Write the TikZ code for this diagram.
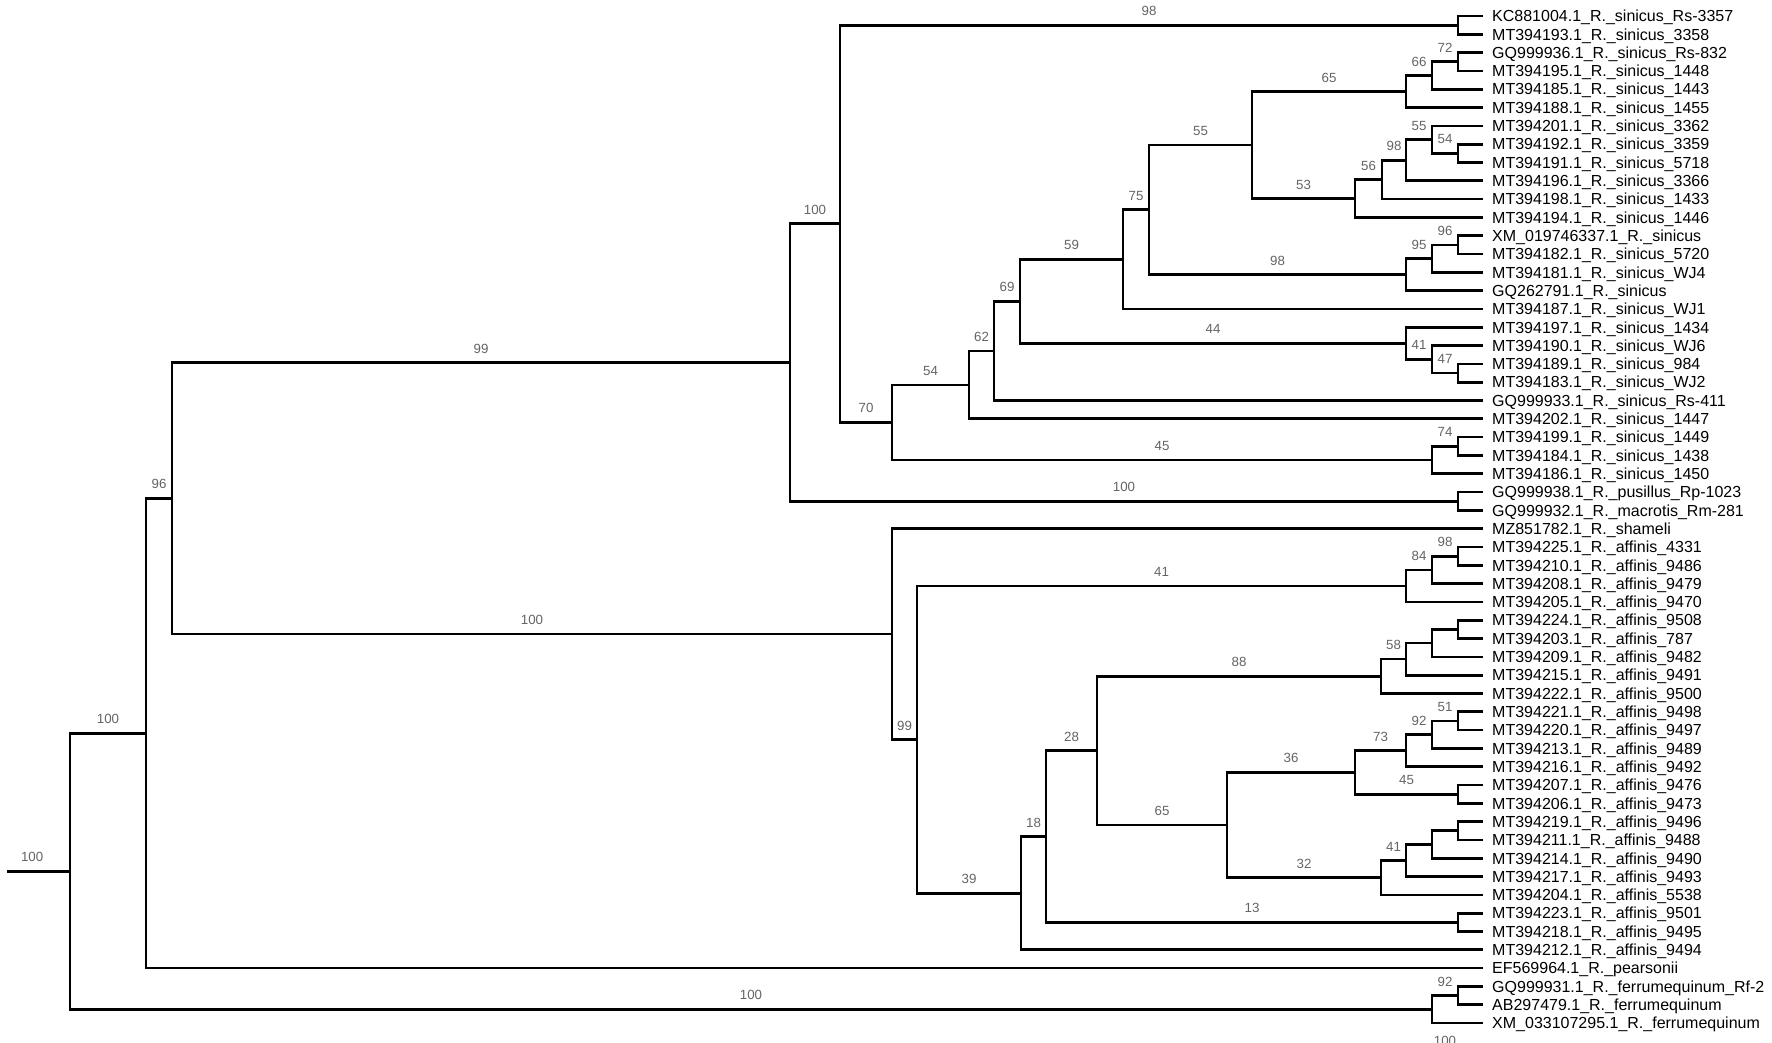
\documentclass[tikz,border=0pt]{standalone}
\usepackage{fontspec}
\setmainfont{Liberation Sans}
\usepackage{tikz}
\usepackage{xcolor}

\definecolor{bsgray}{RGB}{100,100,100}
\tikzset{
  br/.style={line width=2.7pt},
  leaf/.style={anchor=west, inner xsep=9pt, inner ysep=0pt, text height=11.5pt, text depth=0pt,
    font=\fontsize{16pt}{18pt}\selectfont},
  bsfont/.style={inner sep=0pt, text=bsgray, font=\fontsize{13.3pt}{15pt}\selectfont},
  bs/.style={bsfont, above=8pt},
}

\begin{document}
\begin{tikzpicture}[x=1pt, y=-18.31pt]
    \useasboundingbox (0,0.1262) rectangle (1772,57.035);
    % leaves
    \foreach \i/\name in {1/KC881004.1\_R.\_sinicus\_Rs-3357, 2/MT394193.1\_R.\_sinicus\_3358,
      3/GQ999936.1\_R.\_sinicus\_Rs-832, 4/MT394195.1\_R.\_sinicus\_1448,
      5/MT394185.1\_R.\_sinicus\_1443, 6/MT394188.1\_R.\_sinicus\_1455,
      7/MT394201.1\_R.\_sinicus\_3362, 8/MT394192.1\_R.\_sinicus\_3359,
      9/MT394191.1\_R.\_sinicus\_5718, 10/MT394196.1\_R.\_sinicus\_3366,
      11/MT394198.1\_R.\_sinicus\_1433, 12/MT394194.1\_R.\_sinicus\_1446,
      13/XM\_019746337.1\_R.\_sinicus, 14/MT394182.1\_R.\_sinicus\_5720,
      15/MT394181.1\_R.\_sinicus\_WJ4, 16/GQ262791.1\_R.\_sinicus,
      17/MT394187.1\_R.\_sinicus\_WJ1, 18/MT394197.1\_R.\_sinicus\_1434,
      19/MT394190.1\_R.\_sinicus\_WJ6, 20/MT394189.1\_R.\_sinicus\_984,
      21/MT394183.1\_R.\_sinicus\_WJ2, 22/GQ999933.1\_R.\_sinicus\_Rs-411,
      23/MT394202.1\_R.\_sinicus\_1447, 24/MT394199.1\_R.\_sinicus\_1449,
      25/MT394184.1\_R.\_sinicus\_1438, 26/MT394186.1\_R.\_sinicus\_1450,
      27/GQ999938.1\_R.\_pusillus\_Rp-1023, 28/GQ999932.1\_R.\_macrotis\_Rm-281,
      29/MZ851782.1\_R.\_shameli, 30/MT394225.1\_R.\_affinis\_4331,
      31/MT394210.1\_R.\_affinis\_9486, 32/MT394208.1\_R.\_affinis\_9479,
      33/MT394205.1\_R.\_affinis\_9470, 34/MT394224.1\_R.\_affinis\_9508,
      35/MT394203.1\_R.\_affinis\_787, 36/MT394209.1\_R.\_affinis\_9482,
      37/MT394215.1\_R.\_affinis\_9491, 38/MT394222.1\_R.\_affinis\_9500,
      39/MT394221.1\_R.\_affinis\_9498, 40/MT394220.1\_R.\_affinis\_9497,
      41/MT394213.1\_R.\_affinis\_9489, 42/MT394216.1\_R.\_affinis\_9492,
      43/MT394207.1\_R.\_affinis\_9476, 44/MT394206.1\_R.\_affinis\_9473,
      45/MT394219.1\_R.\_affinis\_9496, 46/MT394211.1\_R.\_affinis\_9488,
      47/MT394214.1\_R.\_affinis\_9490, 48/MT394217.1\_R.\_affinis\_9493,
      49/MT394204.1\_R.\_affinis\_5538, 50/MT394223.1\_R.\_affinis\_9501,
      51/MT394218.1\_R.\_affinis\_9495, 52/MT394212.1\_R.\_affinis\_9494,
      53/EF569964.1\_R.\_pearsonii, 54/GQ999931.1\_R.\_ferrumequinum\_Rf-2,
      55/AB297479.1\_R.\_ferrumequinum, 56/XM\_033107295.1\_R.\_ferrumequinum}
      \node[leaf] (t\i) at (1483,\i) {\name};
    % internal nodes
    \foreach \n/\x/\k in {s98/1458/1.5, s72/1458/3.5, s66/1432/4.25, s65/1406/5.125,
      s54/1458/8.5, s55/1432/7.75, s98b/1406/8.875, s56/1382/9.9375, s53/1355/10.96875,
      s55b/1252/8.046875, s96/1458/13.5, s95/1432/14.25, s98c/1406/15.125,
      s75/1149/11.5859, s59/1123/14.2930, s47/1458/20.5, s41/1432/19.75, s44/1406/18.875,
      s69/1020/16.5840, s62/994/19.2920, s54b/969/21.1460, s74/1458/24.5, s45/1432/25.25,
      s70/892/23.1980, s100/840/12.3490, p100/1458/27.5, s99/790/19.9245,
      a98/1458/30.5, a84/1432/31.25, a41/1406/32.125, ax1/1458/34.5, ax2/1432/35.25,
      a58/1406/36.125, a88/1381/37.0625, a51/1458/39.5, a92/1432/40.25, a73/1406/41.125,
      a45/1458/43.5, a36/1355/42.3125, ay1/1458/45.5, ay2/1432/46.25, a41b/1406/47.125,
      a32/1381/48.0625, a65/1227/45.1875, a28/1097/41.125, a13/1458/50.5,
      a18/1046/45.8125, a39/1021/48.9063, a99/917/40.5156, a100/892/34.7578,
      n96/172/27.3411, n100/146/40.1706, f92/1458/54.5, f100/1432/55.25,
      root/70/47.7103, r0/7/47.7103}
      \coordinate (\n) at (\x,\k);

    % sinicus clade
    \draw[br] (t1.west) -| (s98) |- (t2.west);
    \draw[br] (t3.west) -| (s72) |- (t4.west);
    \draw[br] (s72) -| node[bs,pos=.25]{72} (s66) |- (t5.west);
    \draw[br] (s66) -| node[bs,pos=.25]{66} (s65) |- (t6.west);
    \draw[br] (t8.west) -| (s54) |- (t9.west);
    \draw[br] (t7.west) -| (s55) |- node[bs,pos=.75]{54} (s54);
    \draw[br] (s55) -| node[bs,pos=.25]{55} (s98b) |- (t10.west);
    \draw[br] (s98b) -| node[bs,pos=.25]{98} (s56) |- (t11.west);
    \draw[br] (s56) -| node[bs,pos=.25]{56} (s53) |- (t12.west);
    \draw[br] (s65) -| node[bs,pos=.25]{65} (s55b) |- node[bs,pos=.75]{53} (s53);
    \draw[br] (t13.west) -| (s96) |- (t14.west);
    \draw[br] (s96) -| node[bs,pos=.25]{96} (s95) |- (t15.west);
    \draw[br] (s95) -| node[bs,pos=.25]{95} (s98c) |- (t16.west);
    \draw[br] (s55b) -| node[bs,pos=.25]{55} (s75) |- node[bs,pos=.75]{98} (s98c);
    \draw[br] (s75) -| node[bs,pos=.25]{75} (s59) |- (t17.west);
    \draw[br] (t20.west) -| (s47) |- (t21.west);
    \draw[br] (t19.west) -| (s41) |- node[bs,pos=.75]{47} (s47);
    \draw[br] (t18.west) -| (s44) |- node[bs,pos=.75]{41} (s41);
    \draw[br] (s59) -| node[bs,pos=.25]{59} (s69) |- node[bs,pos=.75]{44} (s44);
    \draw[br] (s69) -| node[bs,pos=.25]{69} (s62) |- (t22.west);
    \draw[br] (s62) -| node[bs,pos=.25]{62} (s54b) |- (t23.west);
    \draw[br] (t24.west) -| (s74) |- (t25.west);
    \draw[br] (s74) -| node[bs,pos=.25]{74} (s45) |- (t26.west);
    \draw[br] (s54b) -| node[bs,pos=.25]{54} (s70) |- node[bs,pos=.75]{45} (s45);
    \draw[br] (s98) -| node[bs,pos=.25]{98} (s100) |- node[bs,pos=.75]{70} (s70);
    \draw[br] (t27.west) -| (p100) |- (t28.west);
    \draw[br] (s100) -| node[bs,pos=.25]{100} (s99) |- node[bs,pos=.75]{100} (p100);

    % affinis clade
    \draw[br] (t30.west) -| (a98) |- (t31.west);
    \draw[br] (a98) -| node[bs,pos=.25]{98} (a84) |- (t32.west);
    \draw[br] (a84) -| node[bs,pos=.25]{84} (a41) |- (t33.west);
    \draw[br] (t34.west) -| (ax1) |- (t35.west);
    \draw[br] (ax1) -| (ax2) |- (t36.west);
    \draw[br] (ax2) -| (a58) |- (t37.west);
    \draw[br] (a58) -| node[bs,pos=.25]{58} (a88) |- (t38.west);
    \draw[br] (t39.west) -| (a51) |- (t40.west);
    \draw[br] (a51) -| node[bs,pos=.25]{51} (a92) |- (t41.west);
    \draw[br] (a92) -| node[bs,pos=.25]{92} (a73) |- (t42.west);
    \draw[br] (t43.west) -| (a45) |- (t44.west);
    \draw[br] (a73) -| node[bs,pos=.25]{73} (a36) |- node[bs,pos=.75]{45} (a45);
    \draw[br] (t45.west) -| (ay1) |- (t46.west);
    \draw[br] (ay1) -| (ay2) |- (t47.west);
    \draw[br] (ay2) -| (a41b) |- (t48.west);
    \draw[br] (a41b) -| node[bs,pos=.25]{41} (a32) |- (t49.west);
    \draw[br] (a36) -| node[bs,pos=.25]{36} (a65) |- node[bs,pos=.75]{32} (a32);
    \draw[br] (a88) -| node[bs,pos=.25]{88} (a28) |- node[bs,pos=.75]{65} (a65);
    \draw[br] (t50.west) -| (a13) |- (t51.west);
    \draw[br] (a28) -| node[bs,pos=.25]{28} (a18) |- node[bs,pos=.75]{13} (a13);
    \draw[br] (a18) -| node[bs,pos=.25]{18} (a39) |- (t52.west);
    \draw[br] (a41) -| node[bs,pos=.25]{41} (a99) |- node[bs,pos=.75]{39} (a39);
    \draw[br] (t29.west) -| (a100) |- node[bs,pos=.75]{99} (a99);

    % backbone
    \draw[br] (s99) -| node[bs,pos=.25]{99} (n96) |- node[bs,pos=.75]{100} (a100);
    \draw[br] (n96) -| node[bs,pos=.25]{96} (n100) |- (t53.west);
    \draw[br] (t54.west) -| (f92) |- (t55.west);
    \draw[br] (f92) -| node[bs,pos=.25]{92} (f100) |- (t56.west);
    \draw[br] (n100) -| node[bs,pos=.25]{100} (root) |- node[bs,pos=.75]{100} (f100);
    \draw[br] (r0) -- node[bs,pos=.4]{100} (root);
    % cut off at the bottom edge
    \node[bsfont, anchor=south] (cut) at (1445,57.23) {100};
\end{tikzpicture}
\end{document}
